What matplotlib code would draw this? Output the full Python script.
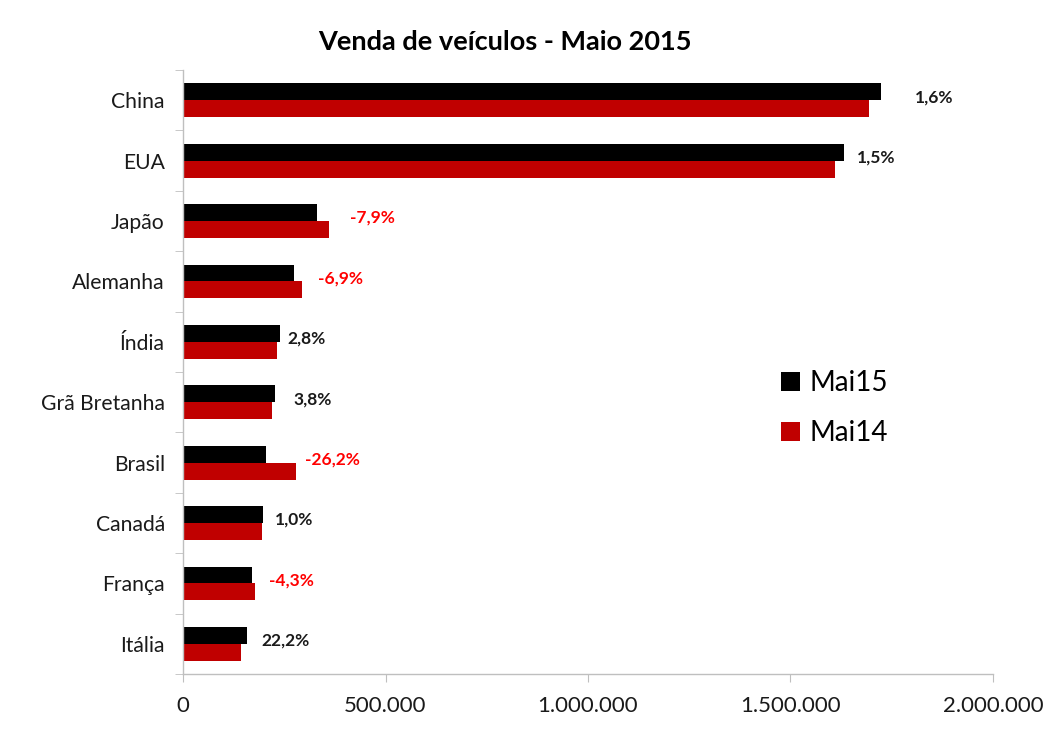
import matplotlib
matplotlib.use("Agg")
import matplotlib.pyplot as plt
import numpy as np

countries = ["China", "EUA", "Japão", "Alemanha", "Índia", "Grã Bretanha",
             "Brasil", "Canadá", "França", "Itália"]
mai15 = [1723000, 1633000, 332000, 273000, 239500, 226000, 205000, 198000, 170000, 157000]
mai14 = [1695000, 1609000, 360000, 294000, 233000, 219000, 278000, 196000, 178000, 142000]
pct_labels = ["1,6%", "1,5%", "-7,9%", "-6,9%", "2,8%", "3,8%", "-26,2%", "1,0%", "-4,3%", "22,2%"]
label_x = [1854000, 1711000, 467000, 388000, 306000, 319000, 370000, 274000, 267000, 254000]
xticks = [0, 500000, 1000000, 1500000, 2000000]
xtick_labels = ["0", "500.000", "1.000.000", "1.500.000", "2.000.000"]
series_names = ["Mai15", "Mai14"]
title = "Venda de veículos - Maio 2015"

plt.rcParams['font.family'] = ['Lato', 'DejaVu Sans']

fig = plt.figure(figsize=(10.5, 7.49), dpi=100)
ax = fig.add_axes([0.1743, 0.1001, 0.9457 - 0.1743, 0.9065 - 0.1001])

y = np.arange(len(countries))
h = 0.28
ax.barh(y - h / 2, mai15, height=h, color="#000000", label=series_names[0])
ax.barh(y + h / 2, mai14, height=h, color="#C00000", label=series_names[1])

for yi, lx, txt in zip(y, label_x, pct_labels):
    col = "#FF0000" if txt.startswith("-") else "#1a1a1a"
    ax.text(lx, yi - 0.05, txt, color=col, fontsize=12.5, fontweight="bold",
            ha="center", va="center")

ax.set_ylim(len(countries) - 0.5, -0.5)
ax.set_xlim(0, 2000000)
ax.set_yticks(y)
ax.set_yticklabels(countries, fontsize=15.2, color="#1a1a1a")
ax.set_yticks(np.arange(-0.5, len(countries), 1.0), minor=True)
ax.tick_params(axis="y", which="major", length=0, pad=13)
ax.tick_params(axis="y", which="minor", length=6, color="#BFBFBF", direction="out")
ax.set_xticks(xticks)
ax.set_xticklabels(xtick_labels, fontsize=16, color="#1a1a1a")
ax.tick_params(axis="x", length=6, color="#BFBFBF", direction="out", pad=10)

for s in ["top", "right"]:
    ax.spines[s].set_visible(False)
for s in ["left", "bottom"]:
    ax.spines[s].set_color("#BFBFBF")
    ax.spines[s].set_linewidth(1.0)

leg = ax.legend(loc="center left", bbox_to_anchor=(0.708, 0.44), frameon=False,
                fontsize=20, handlelength=0.65, handleheight=0.65, handletextpad=0.36,
                labelspacing=0.85)

fig.text(0.481, 0.944, title, fontsize=19.5, fontweight="bold", ha="center", va="center",
         color="#000000")

fig.savefig("out.png", dpi=100)
